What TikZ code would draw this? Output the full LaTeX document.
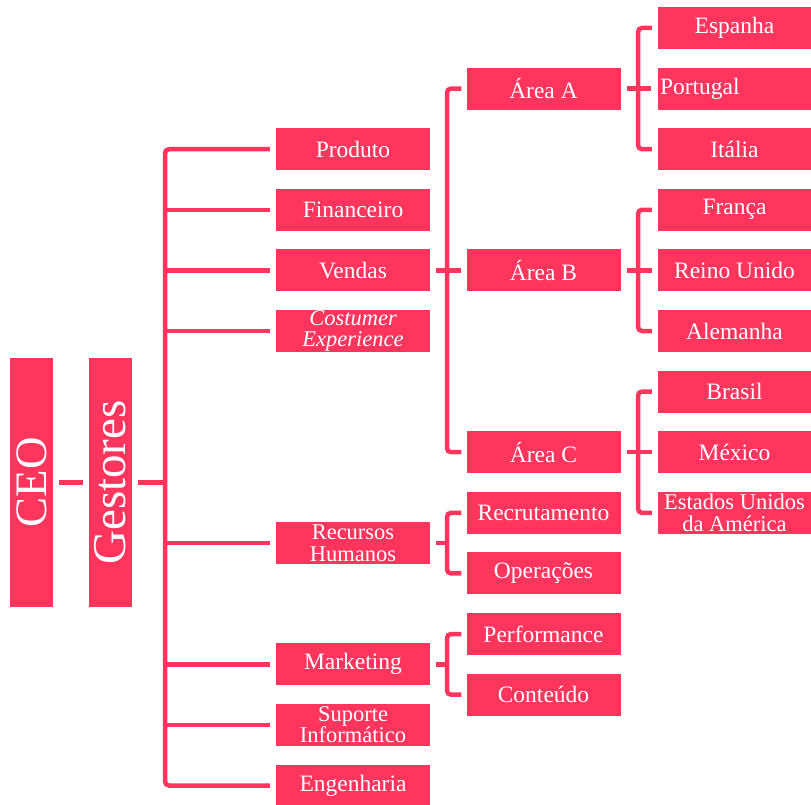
\documentclass[tikz,border=0pt]{standalone}
\usepackage{fontspec}
\setmainfont{Liberation Serif}
\usetikzlibrary{calc}
\definecolor{orgred}{RGB}{255,53,94}
\tikzset{%
  orgbox/.style={fill=orgred, text=white, minimum width=154pt, minimum height=42pt, inner sep=2pt, align=center, font=\fontsize{23.5}{20.5}\selectfont},
  twoline/.style={font=\fontsize{22.5}{21.5}\selectfont, inner ysep=0pt},
  bigbox/.style={fill=orgred, text=white, minimum width=43pt, minimum height=249pt, inner sep=0pt, font=\fontsize{45}{45}\selectfont},
  orgline/.style={draw=orgred, line width=4.5pt, rounded corners=4pt}
}

\begin{document}
\begin{tikzpicture}[x=1pt, y=-1pt]
\useasboundingbox (0,0) rectangle (811,805);

\coordinate (spine0) at (165,0);
\coordinate (spine1) at (447,0);
\coordinate (spine2) at (638,0);

% top level
\node[bigbox] (ceo) at (31.5,482.5) {\rotatebox{90}{CEO}};
\node[bigbox, font=\fontsize{47}{47}\selectfont] (gestores) at (110.5,482.5) {\rotatebox{90}{Gestores}};

% departments
\foreach \name/\row/\txt in {produto/149.2/Produto, financeiro/209.8/Financeiro, vendas/270.4/Vendas, marketing/664.3/Marketing, engenharia/785.5/Engenharia} {
  \node[orgbox] (\name) at (353,\row) {\txt};
}
\node[orgbox, twoline] (rh) at (353,543.1) {Recursos\\Humanos};
\node[orgbox, twoline] (suporte) at (353,724.9) {Suporte\\Informático};
\node[orgbox, twoline, font=\fontsize{22.5}{21.5}\selectfont\itshape] (costumer) at (353,331) {Costumer\\Experience};

% sub-departments
\foreach \name/\row/\txt in {areaA/88.6/Área A, areaB/270.4/Área B, areaC/452.2/Área C, recrutamento/512.8/Recrutamento, operacoes/573.4/Operações, performance/634/Performance, conteudo/694.6/Conteúdo} {
  \node[orgbox] (\name) at (543.5,\row) {\txt};
}

% countries
\foreach \name/\row/\txt in {espanha/28/Espanha, italia/149.2/Itália, franca/209.8/França, reino/270.4/Reino Unido, alemanha/331/Alemanha, brasil/391.6/Brasil, mexico/452.2/México} {
  \node[orgbox, minimum width=153pt] (\name) at (734.5,\row) {\txt};
}
\node[orgbox, twoline, minimum width=153pt] (eua) at (734.5,512.8) {Estados Unidos\\da América};
\node[orgbox, text width=149pt, align=left] (portugal) at (734.5,88.6) {Portugal};

% links
\draw[orgline] ([xshift=6pt]ceo.east) -- ([xshift=-6pt]gestores.west);
\draw[orgline] ([xshift=6pt]gestores.east) -- (spine0 |- gestores.east);
\draw[orgline] ([xshift=-6pt]produto.west) -| (spine0 |- engenharia.west) -- ([xshift=-6pt]engenharia.west);
\foreach \n in {financeiro, vendas, costumer, rh, marketing, suporte} {
  \draw[orgline] ([xshift=-6pt]\n.west) -- (spine0 |- \n.west);
}

\foreach \p/\a/\b/\c in {vendas/areaA/areaB/areaC} {
  \draw[orgline] ([xshift=6pt]\p.east) -- (spine1 |- \p.east);
  \draw[orgline] ([xshift=-5pt]\a.west) -| (spine1 |- \c.west) -- ([xshift=-5pt]\c.west);
  \draw[orgline] ([xshift=-5pt]\b.west) -- (spine1 |- \b.west);
}
\foreach \p/\a/\c in {rh/recrutamento/operacoes, marketing/performance/conteudo} {
  \draw[orgline] ([xshift=6pt]\p.east) -- (spine1 |- \p.east);
  \draw[orgline] ([xshift=-5pt]\a.west) -| (spine1 |- \c.west) -- ([xshift=-5pt]\c.west);
}

\foreach \p/\a/\b/\c in {areaA/espanha/portugal/italia, areaB/franca/reino/alemanha, areaC/brasil/mexico/eua} {
  \draw[orgline] ([xshift=6pt]\p.east) -- (spine2 |- \p.east);
  \draw[orgline] ([xshift=-6pt]\a.west) -| (spine2 |- \c.west) -- ([xshift=-6pt]\c.west);
  \draw[orgline] ([xshift=-6pt]\b.west) -- (spine2 |- \b.west);
}
\end{tikzpicture}
\end{document}
